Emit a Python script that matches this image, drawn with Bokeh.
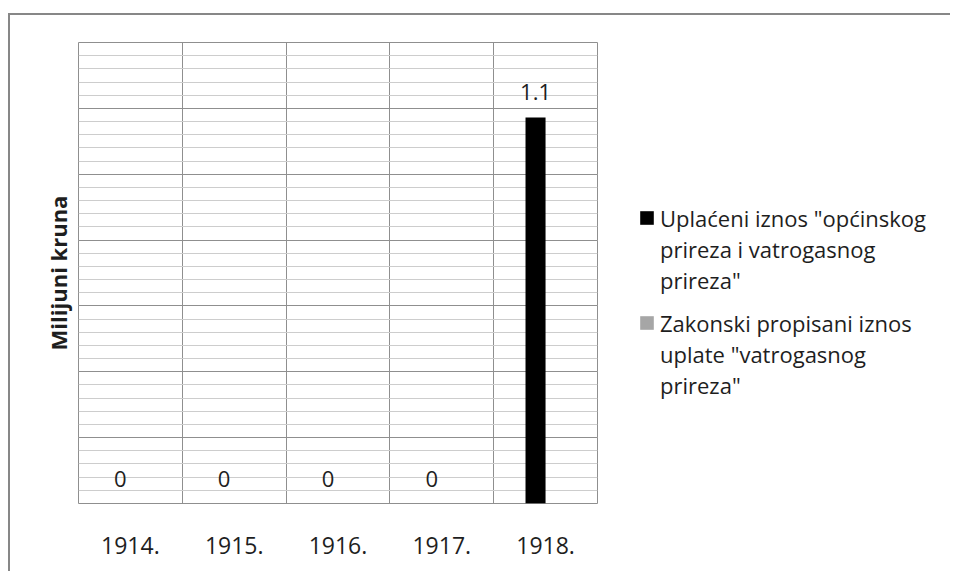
from bokeh.plotting import figure
from bokeh.layouts import row
from bokeh.models import ColumnDataSource, FixedTicker, Legend, LegendItem
from bokeh.core.properties import value
from bokeh.embed import file_html
from bokeh.resources import INLINE

# ---- data ----
years = ["1914.", "1915.", "1916.", "1917.", "1918."]
paid = [0, 0, 0, 0, 1.1]          # Uplaćeni iznos "općinskog prireza i vatrogasnog prireza"
legal = [0, 0, 0, 0, 0]           # Zakonski propisani iznos uplate "vatrogasnog prireza"
series_lines = [
    ['Uplaćeni iznos "općinskog', 'prireza i vatrogasnog', 'prireza"'],
    ['Zakonski propisani iznos', 'uplate "vatrogasnog', 'prireza"'],
]
series_colors = ["black", "#a6a6a6"]
y_title = "Milijuni kruna"

# ---- style ----
FONT = "Open Sans"
TXT = "#1e1e1e"
GRID_MAJOR = "#8f8f8f"
GRID_MINOR = "#cdcdcd"
Y_MAX = 1.3137
N_MAJOR = 7
BAR_W = 0.193
OFF = 0.097
H = 556

n = len(years)
centers = [i + 0.5 for i in range(n)]
labels = [f"{v:g}" for v in paid]
src = ColumnDataSource(dict(
    x1=[c - OFF for c in centers],
    x2=[c + OFF for c in centers],
    paid=paid, legal=legal, lbl=labels,
))

p = figure(width=592, height=H, x_range=(0, n), y_range=(0, Y_MAX),
           output_backend="svg", toolbar_location=None,
           min_border_left=68, min_border_right=5, min_border_top=27, min_border_bottom=68)
p.outline_line_color = GRID_MAJOR
p.outline_line_width = 1
p.background_fill_color = "white"

# grids
major = [i * Y_MAX / N_MAJOR for i in range(N_MAJOR + 1)]
minor = [j * Y_MAX / (N_MAJOR * 5) for j in range(N_MAJOR * 5 + 1)]
p.ygrid.ticker = FixedTicker(ticks=major, minor_ticks=minor)
p.ygrid.grid_line_color = GRID_MAJOR
p.ygrid.minor_grid_line_color = GRID_MINOR
p.xgrid.ticker = FixedTicker(ticks=list(range(n + 1)))
p.xgrid.grid_line_color = GRID_MAJOR

# axes
p.xaxis.ticker = FixedTicker(ticks=centers)
p.xaxis.major_label_overrides = {c: y for c, y in zip(centers, years)}
p.xaxis.axis_line_color = None
p.xaxis.major_tick_line_color = None
p.xaxis.minor_tick_line_color = None
p.xaxis.major_label_standoff = 27
p.xaxis.major_label_text_font = FONT
p.xaxis.major_label_text_font_size = "23px"
p.xaxis.major_label_text_color = TXT

p.yaxis.ticker = FixedTicker(ticks=[])
p.yaxis.axis_line_color = None
p.yaxis.major_tick_line_color = None
p.yaxis.minor_tick_line_color = None
p.yaxis.axis_label = y_title
p.yaxis.axis_label_text_font = FONT
p.yaxis.axis_label_text_font_size = "22px"
p.yaxis.axis_label_text_font_style = "bold"
p.yaxis.axis_label_text_color = TXT
p.yaxis.axis_label_standoff = 6

# bars
p.vbar(x="x1", top="paid", width=BAR_W, source=src, fill_color=series_colors[0], line_color=None)
p.vbar(x="x2", top="legal", width=BAR_W, source=src, fill_color=series_colors[1], line_color=None)

# value labels
p.text(x="x1", y="paid", text="lbl", source=src, text_align="center",
       text_baseline="alphabetic", y_offset=-25, text_font=value(FONT),
       text_font_size="22px", text_color=TXT)

# ---- legend panel ----
pl = figure(width=348, height=H, x_range=(0, 1), y_range=(0, 1),
            output_backend="svg", toolbar_location=None,
            min_border=0)
pl.axis.visible = False
pl.grid.visible = False
pl.outline_line_color = None

blank = pl.vbar(x=[0], top=[0], width=0, fill_alpha=0, line_alpha=0)
legend_locs = [(36, 208), (36, 103)]
for lines, color, loc in zip(series_lines, series_colors, legend_locs):
    r = pl.vbar(x=[0], top=[0], width=0, fill_color=color, line_color=None)
    items = [LegendItem(label=lines[0], renderers=[r])]
    items += [LegendItem(label=t, renderers=[blank]) for t in lines[1:]]
    lg = Legend(items=items, location=loc, padding=0, margin=0,
                border_line_color=None, background_fill_alpha=0,
                glyph_width=17, glyph_height=17, label_standoff=5, spacing=0,
                label_height=31, label_text_font=FONT, label_text_font_size="22px",
                label_text_color=TXT)
    pl.add_layout(lg)

lay = row(p, pl, styles={"border-top": "2px solid #878787", "border-left": "2px solid #878787",
                         "margin-top": "13px", "margin-left": "8px"})

open("out.html", "w").write(file_html(lay, INLINE))
